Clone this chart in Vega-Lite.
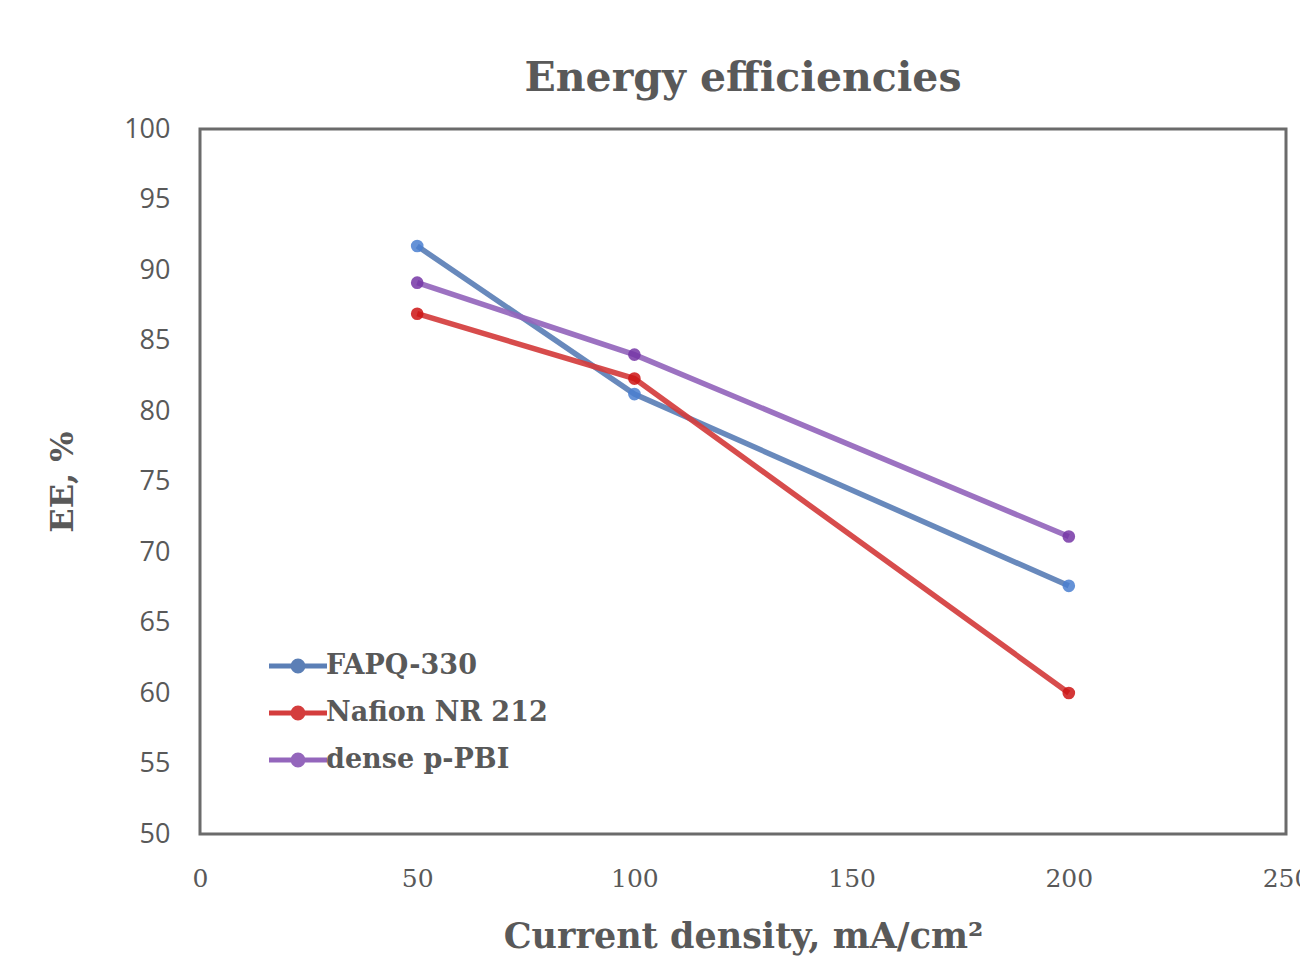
{
  "$schema": "https://vega.github.io/schema/vega-lite/v6.json",
  "width": 1086,
  "height": 705,
  "autosize": {"type": "none"},
  "padding": {"left": 200, "top": 129, "right": 14, "bottom": 127},
  "background": "white",
  "title": {
    "text": "Energy efficiencies",
    "font": "DejaVu Serif",
    "fontSize": 41,
    "fontWeight": "bold",
    "color": "#595959",
    "anchor": "middle",
    "frame": "group",
    "offset": 15
  },
  "config": {
    "view": {"stroke": "#6b6b6b", "strokeWidth": 3},
    "axis": {"grid": false, "domain": false, "ticks": false}
  },
  "data": {
    "values": [
      {"x": 50, "ee": 91.7, "series": "FAPQ-330"},
      {"x": 100, "ee": 81.2, "series": "FAPQ-330"},
      {"x": 200, "ee": 67.6, "series": "FAPQ-330"},
      {"x": 50, "ee": 86.9, "series": "Nafion NR 212"},
      {"x": 100, "ee": 82.3, "series": "Nafion NR 212"},
      {"x": 200, "ee": 60.0, "series": "Nafion NR 212"},
      {"x": 50, "ee": 89.1, "series": "dense p-PBI"},
      {"x": 100, "ee": 84.0, "series": "dense p-PBI"},
      {"x": 200, "ee": 71.1, "series": "dense p-PBI"}
    ]
  },
  "encoding": {
    "x": {
      "field": "x", "type": "quantitative",
      "scale": {"domain": [0, 250], "nice": false},
      "axis": {
        "values": [0, 50, 100, 150, 200, 250],
        "title": "Current density, mA/cm²",
        "titleFont": "DejaVu Serif", "titleFontSize": 35, "titleFontWeight": "bold", "titleColor": "#595959",
        "titlePadding": 28,
        "labelFont": "DejaVu Serif", "labelFontSize": 25, "labelColor": "#595959", "labelPadding": 32,
        "labelOverlap": false, "labelFlush": false
      }
    },
    "y": {
      "field": "ee", "type": "quantitative",
      "scale": {"domain": [50, 100], "nice": false, "zero": false},
      "axis": {
        "values": [50, 55, 60, 65, 70, 75, 80, 85, 90, 95, 100],
        "title": "EE, %",
        "titleFont": "DejaVu Serif", "titleFontSize": 32, "titleFontWeight": "bold", "titleColor": "#595959",
        "titlePadding": 44,
        "labelFont": "Open Sans", "labelFontSize": 27, "labelColor": "#595959", "labelPadding": 30,
        "labelOverlap": false, "labelFlush": false
      }
    }
  },
  "layer": [
    {
      "mark": {"type": "line", "strokeWidth": 5.5, "strokeOpacity": 0.92},
      "encoding": {
        "color": {
          "field": "series", "type": "nominal",
          "scale": {"domain": ["FAPQ-330", "Nafion NR 212", "dense p-PBI"], "range": ["#5b7fb6", "#d43d3d", "#9466bc"]},
          "legend": {
            "title": null,
            "orient": "none",
            "legendX": 81,
            "legendY": 520,
            "padding": 0,
            "symbolType": "M-2,0H2M-0.34,0A0.34,0.34,0,1,1,0.34,0A0.34,0.34,0,1,1,-0.34,0Z",
            "symbolSize": 841,
            "symbolStrokeWidth": 5,
            "labelFont": "DejaVu Serif", "labelFontSize": 27, "labelFontWeight": "bold", "labelColor": "#595959",
            "labelOffset": 11,
            "rowPadding": 15,
            "labelLimit": 400,
            "encode": {"symbols": {"update": {"fill": {"scale": "color", "field": "value"}, "fillOpacity": {"value": 1}}}}
          }
        }
      }
    },
    {
      "mark": {"type": "point", "filled": true, "size": 160, "opacity": 0.85},
      "encoding": {
        "fill": {
          "field": "series", "type": "nominal",
          "scale": {"domain": ["FAPQ-330", "Nafion NR 212", "dense p-PBI"], "range": ["#4a7fd0", "#cc1414", "#7636a6"]},
          "legend": null
        }
      }
    }
  ]
}
